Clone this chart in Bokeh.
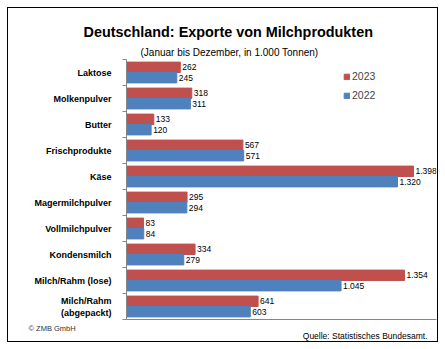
from bokeh.plotting import figure
from bokeh.models import (ColumnDataSource, FixedTicker, Range1d, Title,
                          Legend, LegendItem, LabelSet)
from bokeh.core.properties import value
from bokeh.embed import file_html
from bokeh.resources import INLINE

categories = ["Laktose", "Molkenpulver", "Butter", "Frischprodukte", "Käse",
              "Magermilchpulver", "Vollmilchpulver", "Kondensmilch",
              "Milch/Rahm (lose)", "Milch/Rahm\n(abgepackt)"]
v2023 = [262, 318, 133, 567, 1398, 295, 83, 334, 1354, 641]
v2022 = [245, 311, 120, 571, 1320, 294, 84, 279, 1045, 603]
years = ["2023", "2022"]

RED = "#C0504D"
BLUE = "#4F81BD"
FONT = "Liberation Sans"

def fmt(v):
    return f"{v:,}".replace(",", ".")

n = len(categories)
centers = [i + 0.5 for i in range(n)]
src23 = ColumnDataSource(dict(y=[c - 0.2 for c in centers], v=v2023, t=[fmt(v) for v in v2023]))
src22 = ColumnDataSource(dict(y=[c + 0.2 for c in centers], v=v2022, t=[fmt(v) for v in v2022]))

p = figure(width=445, height=349, output_backend="svg", toolbar_location=None,
           x_range=Range1d(0, 1510), y_range=Range1d(n, 0),
           min_border_left=126, min_border_right=9, min_border_top=59, min_border_bottom=30,
           styles={"outline": "1.5px solid black", "outline-offset": "-8px",
                   "background-color": "white"})
p.outline_line_color = None
p.grid.visible = False
p.background_fill_alpha = 0
p.border_fill_alpha = 0

r23 = p.hbar(y="y", right="v", left=0, height=0.4, source=src23, fill_color=RED, line_color=RED)
r22 = p.hbar(y="y", right="v", left=0, height=0.4, source=src22, fill_color=BLUE, line_color=BLUE)

for src in (src23, src22):
    p.add_layout(LabelSet(x="v", y="y", text="t", source=src, x_offset=2,
                          text_align="left", text_baseline="middle",
                          text_font=value(FONT), text_font_size="8.5px", text_color="black"))

# y axis
ya = p.yaxis[0]
ya.ticker = FixedTicker(ticks=centers, minor_ticks=list(range(n + 1)))
ya.major_label_overrides = {c: name for c, name in zip(centers, categories)}
ya.major_tick_line_color = None
ya.major_tick_out = 0
ya.major_tick_in = 0
ya.minor_tick_out = 4
ya.minor_tick_in = 0
ya.minor_tick_line_color = "#868686"
ya.axis_line_color = "#868686"
ya.major_label_text_font = FONT
ya.major_label_text_font_style = "bold"
ya.major_label_text_font_size = "9px"
ya.major_label_text_color = "black"
ya.major_label_standoff = 11

xa = p.xaxis[0]
xa.ticker = FixedTicker(ticks=[])
xa.major_tick_line_color = None
xa.minor_tick_line_color = None
xa.major_tick_out = 0
xa.major_tick_in = 0
xa.major_label_standoff = 0
xa.major_label_text_font_size = "0px"
xa.axis_line_color = "#868686"

legend = Legend(items=[LegendItem(label=years[0], renderers=[r23]),
                       LegendItem(label=years[1], renderers=[r22])],
                location=(217, 218), padding=0, spacing=7, glyph_width=7, glyph_height=7,
                label_height=12, label_standoff=2, border_line_color=None,
                background_fill_alpha=0, label_text_font=FONT, label_text_font_size="10.5px",
                margin=0)
p.add_layout(legend)

# titles
p.add_layout(Title(text="(Januar bis Dezember, in 1.000 Tonnen)", align="left", offset=14,
                   standoff=4, text_font=FONT, text_font_size="10px",
                   text_font_style="normal", text_color="black"), "above")
p.add_layout(Title(text="Deutschland: Exporte von Milchprodukten", align="left", offset=-43,
                   standoff=6, text_font=FONT, text_font_size="14.4px",
                   text_font_style="bold", text_color="black"), "above")
p.add_layout(Title(text="© ZMB GmbH", align="left", offset=-98, standoff=4,
                   text_font=FONT, text_font_size="7.5px", text_font_style="normal",
                   text_color="#333333"), "below")
p.add_layout(Title(text="Quelle: Statistisches Bundesamt.", align="right", offset=9, standoff=-12,
                   text_font=FONT, text_font_size="8.5px", text_font_style="normal",
                   text_color="black"), "below")

open("out.html", "w").write(file_html(p, INLINE))
